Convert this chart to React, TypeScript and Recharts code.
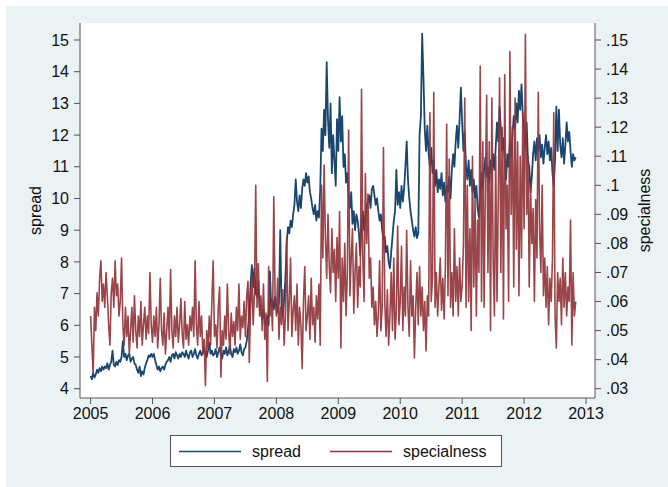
import React from "react";
import { ComposedChart, Line, XAxis, YAxis, CartesianGrid, Legend } from "recharts";

// ---- data: weekly-ish readings (48 per year) ----
const spread2005 = [4.4,4.3,4.5,4.35,4.45,4.6,4.5,4.65,4.55,4.7,4.6,4.7,4.65,4.8,4.6,4.75,4.85,5.2,4.75,4.7,4.85,4.75,4.9,4.85,5.0,5.5,5.0,5.1,4.9,5.05,5.1,4.85,4.95,5.0,4.8,4.75,4.6,4.5,4.7,4.4,4.55,4.45,4.65,4.8,4.9,5.05,5.0,5.1];
const spread2006 = [5.0,5.1,4.9,4.75,4.6,4.7,4.55,4.65,4.7,4.6,4.75,4.85,4.9,5.0,4.85,5.05,5.1,4.95,5.15,5.05,4.95,5.1,5.0,5.15,5.1,5.0,5.2,5.05,4.95,5.15,5.2,5.0,5.1,5.25,5.05,4.95,5.1,5.2,5.05,5.15,5.3,5.1,5.0,5.2,5.45,5.1,5.2,5.05];
const spread2007 = [5.1,5.25,5.0,5.15,5.3,5.1,4.95,5.2,5.1,5.3,5.05,5.2,5.35,5.1,5.0,5.25,5.15,5.3,5.1,5.2,5.4,5.15,5.05,5.25,5.3,5.5,5.9,6.3,7.3,7.9,7.2,7.8,7.0,6.9,7.4,6.6,6.4,6.2,6.5,6.1,6.0,6.3,6.0,7.7,6.6,6.8,6.5,6.9];
const spread2008 = [6.6,6.4,6.7,9.0,6.5,6.3,6.8,7.5,8.6,9.1,8.9,9.3,9.1,9.5,9.8,10.6,9.9,9.6,10.1,9.7,10.3,10.6,10.4,10.8,10.5,10.7,10.2,10.0,9.7,9.5,9.8,9.3,9.6,9.4,10.3,12.2,11.5,12.8,12.0,14.3,12.5,11.6,13.0,10.8,12.0,11.2,10.4,12.5];
const spread2009 = [11.5,13.2,11.8,12.6,11.0,11.4,10.5,10.8,10.0,9.7,10.2,9.2,9.6,9.0,9.5,9.3,8.9,8.2,9.2,9.6,9.0,9.4,9.8,9.9,10.1,9.7,10.3,10.4,10.1,9.8,10.0,9.6,9.3,9.5,9.0,8.7,8.8,8.3,8.5,8.0,7.8,8.3,8.8,9.3,9.6,10.9,9.8,10.2];
const spread2010 = [9.7,10.4,9.9,10.3,11.0,11.8,10.6,10.0,9.6,9.3,9.0,8.8,9.1,8.75,8.9,12.0,12.6,15.2,13.8,12.2,11.5,12.3,11.4,11.0,11.6,10.8,11.2,10.4,10.9,10.2,10.6,10.3,10.8,10.1,10.5,9.9,10.4,10.2,10.7,10.0,10.9,11.4,11.0,11.8,12.3,11.6,12.5,13.5];
const spread2011 = [12.4,11.5,12.1,11.0,10.6,11.2,10.4,10.9,10.2,10.6,10.0,10.4,9.7,9.4,10.2,10.8,10.3,10.9,11.3,10.7,11.0,10.5,11.2,10.8,11.4,10.9,11.6,12.4,11.8,12.9,12.2,11.5,11.9,11.2,10.6,11.4,11.0,11.8,11.3,12.0,12.6,12.2,13.0,12.4,13.4,12.8,13.6,12.6];
const spread2012 = [12.2,11.6,12.4,11.2,11.0,10.2,10.7,11.4,11.8,11.2,11.9,11.5,12.0,11.3,11.7,11.1,11.6,12.0,11.4,11.8,11.2,11.6,10.8,10.4,11.2,12.9,11.5,12.8,11.7,11.3,11.9,11.1,11.7,12.4,11.8,12.1,11.5,11.0,11.4,11.2,11.3];

const special2005 = [0.055,0.045,0.035,0.058,0.05,0.063,0.055,0.068,0.074,0.06,0.066,0.058,0.07,0.062,0.052,0.045,0.063,0.068,0.058,0.074,0.062,0.066,0.055,0.06,0.075,0.052,0.045,0.058,0.048,0.055,0.042,0.05,0.058,0.046,0.062,0.05,0.044,0.055,0.048,0.06,0.045,0.052,0.058,0.047,0.055,0.049,0.07,0.052];
const special2006 = [0.046,0.055,0.048,0.058,0.044,0.052,0.068,0.05,0.045,0.056,0.042,0.05,0.058,0.047,0.071,0.05,0.044,0.055,0.048,0.058,0.046,0.052,0.061,0.049,0.044,0.06,0.047,0.052,0.045,0.055,0.05,0.058,0.048,0.074,0.052,0.045,0.06,0.048,0.055,0.042,0.047,0.031,0.05,0.044,0.055,0.045,0.06,0.074];
const special2007 = [0.048,0.052,0.044,0.058,0.065,0.034,0.05,0.045,0.055,0.047,0.066,0.05,0.042,0.056,0.048,0.053,0.045,0.058,0.05,0.066,0.047,0.055,0.051,0.06,0.048,0.062,0.067,0.039,0.058,0.069,0.052,0.063,0.1,0.058,0.073,0.055,0.062,0.05,0.066,0.047,0.056,0.0325,0.072,0.055,0.06,0.05,0.096,0.062];
const special2008 = [0.055,0.068,0.047,0.058,0.052,0.064,0.045,0.055,0.082,0.05,0.06,0.075,0.048,0.057,0.062,0.05,0.066,0.045,0.058,0.052,0.037,0.06,0.072,0.05,0.055,0.062,0.047,0.068,0.052,0.058,0.046,0.062,0.054,0.066,0.045,0.1,0.075,0.107,0.082,0.068,0.09,0.072,0.063,0.085,0.07,0.078,0.06,0.082];
const special2009 = [0.068,0.091,0.044,0.075,0.06,0.08,0.055,0.07,0.119,0.062,0.075,0.085,0.056,0.07,0.08,0.058,0.072,0.065,0.133,0.075,0.06,0.104,0.08,0.097,0.068,0.075,0.058,0.065,0.052,0.06,0.048,0.056,0.074,0.05,0.058,0.113,0.06,0.048,0.064,0.045,0.055,0.07,0.05,0.075,0.047,0.057,0.086,0.052];
const special2010 = [0.06,0.079,0.05,0.065,0.055,0.0845,0.058,0.048,0.074,0.055,0.062,0.0406,0.058,0.07,0.052,0.072,0.055,0.065,0.05,0.06,0.043,0.062,0.055,0.125,0.06,0.068,0.132,0.058,0.07,0.055,0.065,0.075,0.057,0.068,0.054,0.072,0.121,0.062,0.109,0.058,0.07,0.055,0.085,0.06,0.072,0.055,0.075,0.06];
const special2011 = [0.065,0.08,0.13,0.058,0.1,0.06,0.085,0.05,0.11,0.065,0.095,0.055,0.088,0.07,0.141,0.06,0.115,0.058,0.1,0.131,0.07,0.115,0.05,0.13,0.075,0.055,0.11,0.06,0.095,0.137,0.07,0.12,0.054,0.138,0.085,0.1,0.06,0.146,0.09,0.12,0.065,0.13,0.078,0.115,0.062,0.11,0.075,0.125];
const special2012 = [0.085,0.152,0.09,0.11,0.065,0.1,0.08,0.092,0.06,0.095,0.075,0.132,0.085,0.07,0.1,0.062,0.075,0.058,0.072,0.052,0.068,0.06,0.075,0.125,0.055,0.044,0.07,0.06,0.068,0.052,0.075,0.058,0.07,0.055,0.065,0.06,0.088,0.045,0.07,0.055,0.06];

const years = [2005, 2006, 2007, 2008, 2009, 2010, 2011, 2012];
const spreadByYear = [spread2005, spread2006, spread2007, spread2008, spread2009, spread2010, spread2011, spread2012];
const specialByYear = [special2005, special2006, special2007, special2008, special2009, special2010, special2011, special2012];
const pointsPerYear = 48;

const xTicks = [2005, 2006, 2007, 2008, 2009, 2010, 2011, 2012, 2013];
const spreadTicks = [4, 5, 6, 7, 8, 9, 10, 11, 12, 13, 14, 15];
const specialTicks = [0.03, 0.04, 0.05, 0.06, 0.07, 0.08, 0.09, 0.1, 0.11, 0.12, 0.13, 0.14, 0.15];
const legendOrder = ["spread", "specialness"];

const data: { t: number; spread: number; specialness: number }[] = [];
years.forEach((y, k) => {
  spreadByYear[k].forEach((v, i) => {
    data.push({ t: y + i / pointsPerYear, spread: v, specialness: specialByYear[k][i] });
  });
});

const BLUE = "#1a476f";
const RED = "#90353b";
const AXIS = "#555555";
const FONT = "'Liberation Sans', Arial, Helvetica, sans-serif";
const tickStyle = { fill: "#111", fontSize: 16, fontFamily: FONT };

const fmtSpecial = (v: number) => {
  const s = Number(v.toFixed(2)).toString();
  return s.startsWith("0") ? s.slice(1) : s;
};

const LeftTitle = (props: any) => {
  const vb = props.viewBox;
  const cx = 35;
  const cy = vb.y + vb.height / 2;
  return (
    <text x={cx} y={cy} transform={`rotate(-90, ${cx}, ${cy})`} textAnchor="middle" dominantBaseline="central" style={{ fontSize: 16, fontFamily: FONT, fill: "#111" }}>
      spread
    </text>
  );
};

const RightTitle = (props: any) => {
  const vb = props.viewBox;
  const cx = 644;
  const cy = vb.y + vb.height / 2;
  return (
    <text x={cx} y={cy} transform={`rotate(-90, ${cx}, ${cy})`} textAnchor="middle" dominantBaseline="central" style={{ fontSize: 16, fontFamily: FONT, fill: "#111" }}>
      specialness
    </text>
  );
};

const LegendBox = (props: any) => {
  const payload = props.payload || [];
  const items = [
    { x1: 9, x2: 71, tx: 82 },
    { x1: 160, x2: 222, tx: 233 },
  ];
  const ordered = legendOrder
    .map((name) => payload.find((p: any) => p.value === name))
    .filter(Boolean);
  return (
    <svg width={333} height={33} style={{ display: "block" }}>
      <rect x={0.5} y={0.5} width={331} height={31} fill="#ffffff" stroke={AXIS} strokeWidth={1} />
      {ordered.map((p: any, i: number) => (
        <g key={i}>
          <line x1={items[i].x1} x2={items[i].x2} y1={16.5} y2={16.5} stroke={p.color} strokeWidth={1.5} />
          <text x={items[i].tx} y={22} style={{ fontSize: 16, fontFamily: FONT, fill: "#111" }}>
            {p.value}
          </text>
        </g>
      ))}
    </svg>
  );
};

export default function App() {
  return (
    <div style={{ position: "absolute", left: 0, top: 0, width: 668, height: 487, background: "#ffffff" }}>
      <div style={{ position: "absolute", left: 6, top: 6, width: 662, height: 481, background: "#eaf2f3" }} />
      <div style={{ position: "absolute", left: 0, top: 0 }}>
        <ComposedChart width={668} height={487} data={data} margin={{ top: 23, right: 13, bottom: 59, left: 20 }}>
          <CartesianGrid horizontal={false} vertical={false} fill="#ffffff" />
          <XAxis
            dataKey="t"
            type="number"
            domain={[2004.829, 2013.145]}
            ticks={xTicks}
            allowDataOverflow
            height={30}
            tickSize={6}
            tickMargin={4}
            tick={tickStyle}
            stroke={AXIS}
            axisLine={{ stroke: AXIS }}
            tickLine={{ stroke: AXIS }}
            interval={0}
          />
          <YAxis
            yAxisId="left"
            orientation="left"
            type="number"
            width={60}
            domain={[3.707, 15.536]}
            ticks={spreadTicks}
            allowDataOverflow
            tickSize={6}
            tickMargin={5}
            tick={tickStyle}
            axisLine={{ stroke: AXIS }}
            tickLine={{ stroke: AXIS }}
            interval={0}
            label={LeftTitle}
          />
          <YAxis
            yAxisId="right"
            orientation="right"
            type="number"
            width={60}
            domain={[0.0268, 0.15585]}
            ticks={specialTicks}
            allowDataOverflow
            tickFormatter={fmtSpecial}
            tickSize={6}
            tickMargin={5}
            tick={tickStyle}
            axisLine={{ stroke: AXIS }}
            tickLine={{ stroke: AXIS }}
            interval={0}
            label={RightTitle}
          />
          <Legend
            layout="horizontal"
            verticalAlign="middle"
            align="center"
            content={LegendBox}
            wrapperStyle={{ left: 170, top: 435, width: 333, height: 33 }}
          />
          <Line yAxisId="left" type="linear" dataKey="spread" name="spread" stroke={BLUE} strokeWidth={1.8} strokeLinejoin="round" dot={false} isAnimationActive={false} />
          <Line yAxisId="right" type="linear" dataKey="specialness" name="specialness" stroke={RED} strokeWidth={1.6} strokeLinejoin="round" strokeOpacity={0.92} dot={false} isAnimationActive={false} />
        </ComposedChart>
      </div>
    </div>
  );
}
